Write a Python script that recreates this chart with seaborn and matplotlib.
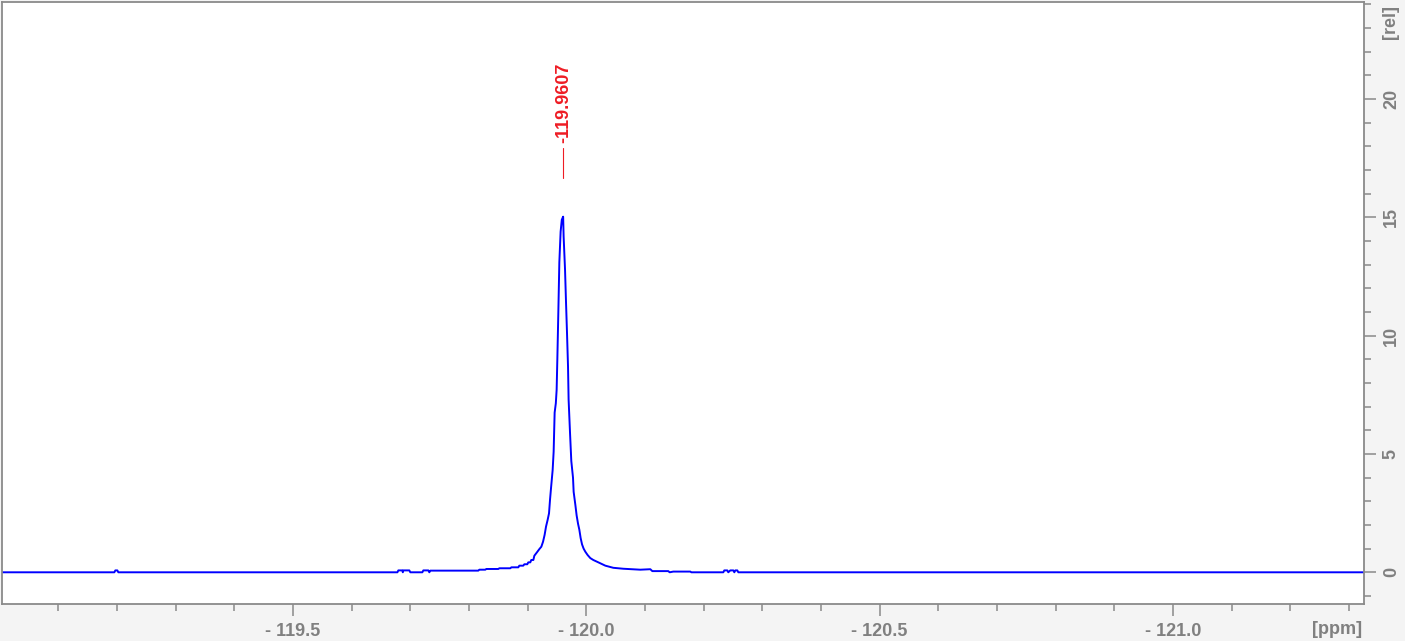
import matplotlib
matplotlib.use("Agg")
import matplotlib.pyplot as plt
from matplotlib.ticker import MultipleLocator, FuncFormatter
import seaborn as sns
import pandas as pd

# ---- data ----
ppm = [-119.00, -119.1955, -119.1972, -119.2006, -119.2023,
       -119.6780, -119.6796, -119.6864, -119.6872, -119.6881, -119.6983, -119.7000,
       -119.7205, -119.7222, -119.7307, -119.7324, -119.7341, -119.8159, -119.8176,
       -119.8278, -119.8295, -119.8500, -119.8517, -119.8705, -119.8722, -119.8841,
       -119.8858, -119.8926, -119.8943, -119.8994, -119.9011, -119.9045, -119.9062,
       -119.9097, -119.9114, -119.9160, -119.9199, -119.9233, -119.9262, -119.9289,
       -119.9313, -119.9340, -119.9364, -119.9381, -119.9398, -119.9426, -119.9443,
       -119.9460, -119.9480, -119.9494, -119.9506, -119.9523, -119.9540, -119.9562,
       -119.9582, -119.9605, -119.9613, -119.9637, -119.9654, -119.9671, -119.9688,
       -119.9698, -119.9722, -119.9744, -119.9773, -119.9784, -119.9813, -119.9835,
       -119.9859, -119.9881, -119.9903, -119.9927, -119.9954, -119.9983, -120.0022,
       -120.0068, -120.0119, -120.0205, -120.0324, -120.0460, -120.0631, -120.0920,
       -120.1091, -120.1125, -120.1398, -120.1420, -120.1483, -120.1773, -120.1790,
       -120.2335, -120.2352, -120.2403, -120.2420, -120.2454, -120.2506, -120.2523,
       -120.2540, -120.2574, -120.2591, -121.40]
intensity = [0.0, 0.0, 0.08, 0.08, 0.0,
             0.0, 0.08, 0.08, 0.0, 0.08, 0.08, 0.0,
             0.0, 0.08, 0.08, 0.0, 0.07, 0.07, 0.11,
             0.11, 0.14, 0.14, 0.17, 0.17, 0.21, 0.21,
             0.28, 0.28, 0.34, 0.34, 0.42, 0.42, 0.52,
             0.52, 0.70, 0.85, 0.98, 1.08, 1.29, 1.58,
             1.93, 2.21, 2.49, 3.06, 3.55, 4.32, 5.10,
             6.75, 7.14, 7.71, 9.0, 11.0, 13.1, 14.4,
             14.9, 15.03, 14.2, 12.8, 11.4, 10.1, 8.7,
             7.3, 5.9, 4.7, 4.0, 3.4, 2.85, 2.4,
             2.05, 1.8, 1.45, 1.18, 1.0, 0.87, 0.73,
             0.60, 0.52, 0.42, 0.28, 0.19, 0.15, 0.11,
             0.13, 0.05, 0.05, 0.0, 0.03, 0.03, 0.0,
             0.0, 0.08, 0.08, 0.0, 0.08, 0.08, 0.0,
             0.08, 0.08, 0.0, 0.0]

peak_ppm = -119.9607
peak_label = "-119.9607"
peak_line = [16.67, 17.93]
peak_text_y = 18.15

x_limits = (-119.0045, -121.3256)
y_limits = (-1.34, 24.09)

df = pd.DataFrame({"ppm": ppm, "intensity": intensity})

# ---- figure ----
sns.set_theme(style="white")
plt.rcParams["font.family"] = ["Liberation Sans", "DejaVu Sans"]

W, H = 1405, 641
fig = plt.figure(figsize=(W / 100, H / 100), dpi=100, facecolor="#f4f4f4")
ax = fig.add_axes([2.3 / W, 1 - 604 / H, (1364 - 2.3) / W, (604 - 2.3) / H])
ax.set_facecolor("white")

sns.lineplot(data=df, x="ppm", y="intensity", sort=False, estimator=None,
             color="#0000ff", linewidth=1.4, ax=ax)

ax.set_xlim(*x_limits)
ax.set_ylim(*y_limits)
ax.set_xlabel("")
ax.set_ylabel("")

gray = "#8a8a8a"
for s in ax.spines.values():
    s.set_color(gray)
    s.set_linewidth(1.3)
    s.set_visible(True)

ax.yaxis.tick_right()
ax.xaxis.set_major_locator(MultipleLocator(0.5))
ax.xaxis.set_minor_locator(MultipleLocator(0.1))
ax.yaxis.set_major_locator(MultipleLocator(5))
ax.yaxis.set_minor_locator(MultipleLocator(1))
ax.xaxis.set_major_formatter(FuncFormatter(lambda v, p: f"- {abs(v):.1f}"))
ax.yaxis.set_major_formatter(FuncFormatter(lambda v, p: f"{v:.0f}"))

ax.tick_params(axis="both", which="major", direction="out", length=8.6, width=1.1,
               color=gray, labelcolor="#808080", labelsize=13, pad=5)
ax.tick_params(axis="both", which="minor", direction="out", length=5, width=1.1,
               color=gray)
ax.tick_params(axis="y", which="both", left=False, right=True, labelleft=False,
               labelright=True)
ax.tick_params(axis="x", which="both", bottom=True, top=False)
for lab in ax.get_yticklabels():
    lab.set_rotation(90)
    lab.set_va("center")
    lab.set_fontweight("bold")
for lab in ax.get_xticklabels():
    lab.set_fontweight("bold")

# axis unit labels
fig.text(1337 / W, 1 - 629 / H, "[ppm]", color="#808080", fontsize=13,
         fontweight="bold", ha="center", va="center")
fig.text(1391 / W, 1 - 22 / H, "[rel]", color="#808080", fontsize=13,
         fontweight="bold", ha="center", va="center", rotation=90)

# peak annotation
ax.plot([peak_ppm, peak_ppm], peak_line, color="#ee1c24", linewidth=0.8)
ax.text(peak_ppm, peak_text_y, peak_label, color="#ee1c24", fontsize=13,
        fontweight="bold", rotation=90, ha="center", va="bottom")

fig.savefig("out.png", dpi=100, facecolor=fig.get_facecolor())
